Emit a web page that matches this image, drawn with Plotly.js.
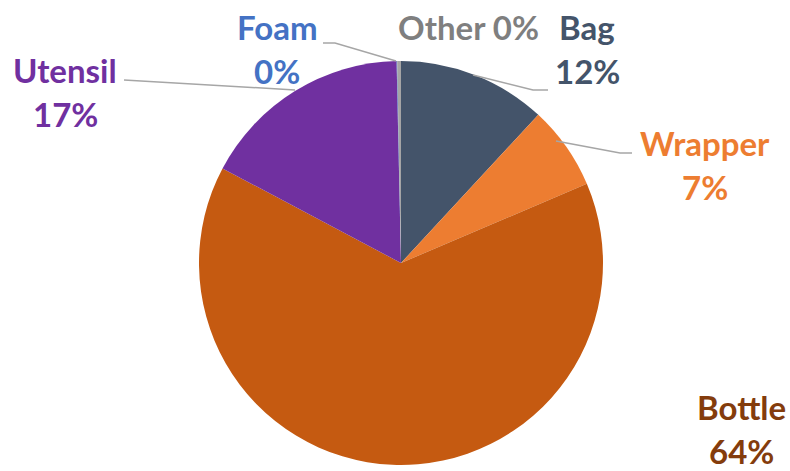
<!DOCTYPE html>
<html>
<head>
<meta charset="utf-8">
<script src="https://cdn.plot.ly/plotly-3.0.1.min.js"></script>
<style>html,body{margin:0;padding:0;background:#fff;}#chart{width:790px;height:471px;}</style>
</head>
<body>
<div id="chart"></div>
<script>
// Data (clockwise from 12 o'clock)
const categories = ["Bag", "Wrapper", "Bottle", "Utensil", "Foam", "Other"];
const shares = [11.9, 6.7, 64.2, 16.9, 0.05, 0.3];
const sliceColors = ["#44546A", "#ED7D31", "#C55A11", "#7030A0", "#4472C4", "#A5A5A5"];
const labelColors = ["#44546A", "#ED7D31", "#843C0C", "#7030A0", "#4472C4", "#7F7F7F"];

const W = 790, H = 471;
const px = x => x / W;
const py = y => 1 - y / H;

const total = shares.reduce((a, b) => a + b, 0);
const pct = shares.map(v => Math.round(v / total * 100) + "%");

// label placement (pixel centre of first line) per category
const labelPos = {
  Bag:     {x: 587, y: 27, twoLine: true},
  Wrapper: {x: 705, y: 143, twoLine: true},
  Bottle:  {x: 741, y: 407, twoLine: true},
  Utensil: {x: 65,  y: 70, twoLine: true},
  Foam:    {x: 277, y: 27, twoLine: true},
  Other:   {x: 468, y: 27, twoLine: false}
};
const lineGap = 44;
const labelFont = c => ({family: 'Lato, "Open Sans", sans-serif', size: 33, color: c, weight: 'bold'});

const annotations = [];
categories.forEach((c, i) => {
  const p = labelPos[c];
  const base = {xref: 'paper', yref: 'paper', xanchor: 'center', yanchor: 'middle', showarrow: false, font: labelFont(labelColors[i])};
  if (p.twoLine) {
    annotations.push(Object.assign({}, base, {x: px(p.x), y: py(p.y), text: c}));
    annotations.push(Object.assign({}, base, {x: px(p.x), y: py(p.y + lineGap), text: pct[i]}));
  } else {
    annotations.push(Object.assign({}, base, {x: px(p.x), y: py(p.y), text: c + " " + pct[i]}));
  }
});

const leaders = [
  [[323, 43], [335, 43], [396, 61]],
  [[124, 80], [295, 90]],
  [[548, 90], [533, 90], [473, 75]],
  [[632, 153], [620, 153], [556, 141]]
];
const shapes = leaders.map(pts => ({
  type: 'path', xref: 'paper', yref: 'paper',
  path: pts.map((p, k) => (k ? 'L' : 'M') + px(p[0]) + ',' + py(p[1])).join(' '),
  line: {color: '#A6A6A6', width: 1.5}
}));

const cx = 401, cy = 263, r = 202;
const trace = {
  type: 'pie',
  labels: categories,
  values: shares,
  sort: false,
  direction: 'clockwise',
  rotation: 0,
  textinfo: 'none',
  hoverinfo: 'label+percent',
  marker: {colors: sliceColors, line: {width: 0}},
  domain: {x: [px(cx - r), px(cx + r)], y: [py(cy + r), py(cy - r)]},
  showlegend: false
};

Plotly.newPlot('chart', [trace], {
  width: W, height: H,
  margin: {l: 0, r: 0, t: 0, b: 0},
  paper_bgcolor: '#ffffff',
  showlegend: false,
  annotations: annotations,
  shapes: shapes
}, {displayModeBar: false, staticPlot: true});
</script>
</body>
</html>
